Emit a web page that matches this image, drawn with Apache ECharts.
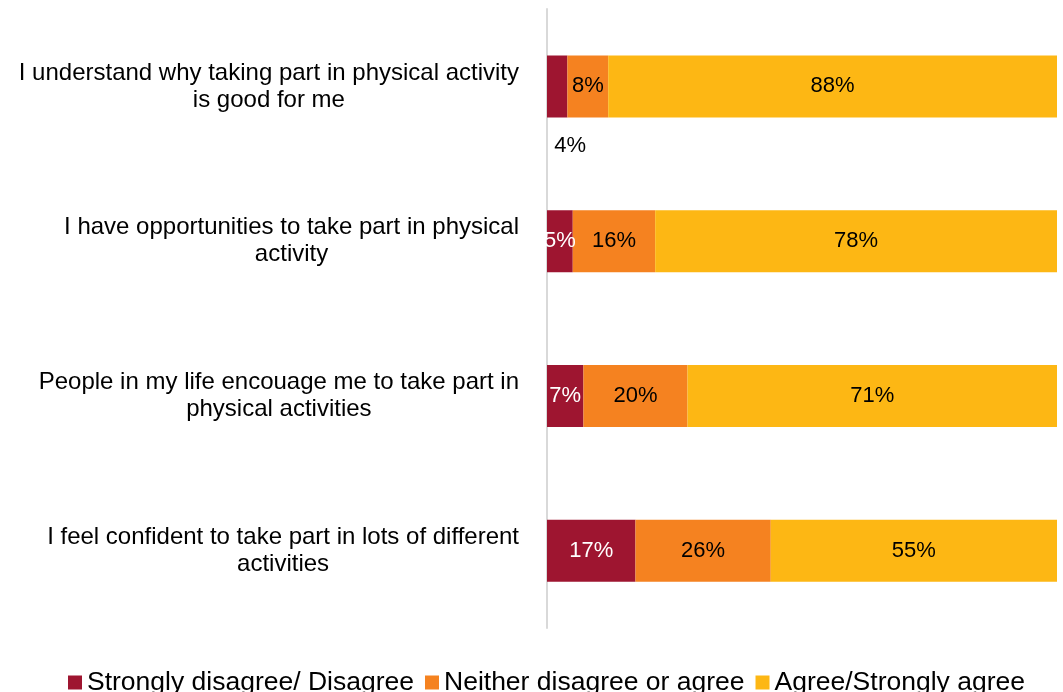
<!DOCTYPE html>
<html>
<head>
<meta charset="utf-8">
<script src="https://cdn.jsdelivr.net/npm/echarts@6/dist/echarts.min.js"></script>
<style>
  html, body { margin: 0; padding: 0; background: #fff; }
  #chart { width: 1063px; height: 692px; }
</style>
</head>
<body>
<div id="chart"></div>
<script>
// Survey statements (top to bottom)
const statements = [
  'I understand why taking part in physical activity\nis good for me',
  'I have opportunities to take part in physical\nactivity',
  'People in my life encouage me to take part in\nphysical activities',
  'I feel confident to take part in lots of different\nactivities'
];
const seriesNames = ['Strongly disagree/ Disagree', 'Neither disagree or agree', 'Agree/Strongly agree'];

// Percent of respondents per response group
const disagree = [4, 5, 7, 17];
const neither = [8, 16, 20, 26];
const agree = [88, 78, 71, 55];

const colors = ['#9E1530', '#F58220', '#FDB714'];
const labelColors = ['#ffffff', '#000000', '#000000'];

const groups = [disagree, neither, agree];
// Each row is drawn as a 100% stacked bar
const rowTotals = statements.map((_, i) => groups.reduce((s, g) => s + g[i], 0));

const FONT = '"Liberation Sans", Arial, sans-serif';

const series = groups.map((vals, gi) => ({
  name: seriesNames[gi],
  type: 'bar',
  stack: 'total',
  barWidth: 62,
  itemStyle: { color: colors[gi] },
  emphasis: { disabled: true },
  label: {
    show: true,
    position: 'inside',
    color: labelColors[gi],
    fontFamily: FONT,
    fontSize: 22,
    formatter: p => vals[p.dataIndex] + '%'
  },
  data: vals.map((v, i) => {
    const item = { value: v / rowTotals[i] * 100 };
    // narrow first segment: its label sits under the bar
    if (gi === 0 && i === 0) {
      item.label = { position: 'bottom', offset: [13, 13], color: '#000000' };
    }
    return item;
  })
}));

const chart = echarts.init(document.getElementById('chart'));
chart.setOption({
  animation: false,
  textStyle: { fontFamily: FONT },
  grid: { left: 547, right: 6, top: 9, bottom: 64, containLabel: false },
  xAxis: {
    type: 'value',
    min: 0,
    max: 100,
    show: false,
    splitLine: { show: false }
  },
  yAxis: {
    type: 'category',
    inverse: true,
    data: statements,
    axisLine: { show: true, lineStyle: { color: '#d9d9d9', width: 2 } },
    axisTick: { show: false },
    axisLabel: {
      margin: 28,
      align: 'right',
      // block sits right-aligned, each line centred inside it
      formatter: v => v.split('\n').map(l => '{c|' + l + '}').join('\n'),
      rich: {
        c: {
          align: 'center',
          color: '#000000',
          fontFamily: FONT,
          fontSize: 24,
          lineHeight: 27
        }
      }
    }
  },
  legend: {
    top: 664,
    left: 63,
    itemWidth: 14,
    itemHeight: 14,
    itemGap: 11,
    icon: 'rect',
    textStyle: { color: '#000000', fontFamily: FONT, fontSize: 26.5 },
    data: seriesNames
  },
  series: series
});
</script>
</body>
</html>
